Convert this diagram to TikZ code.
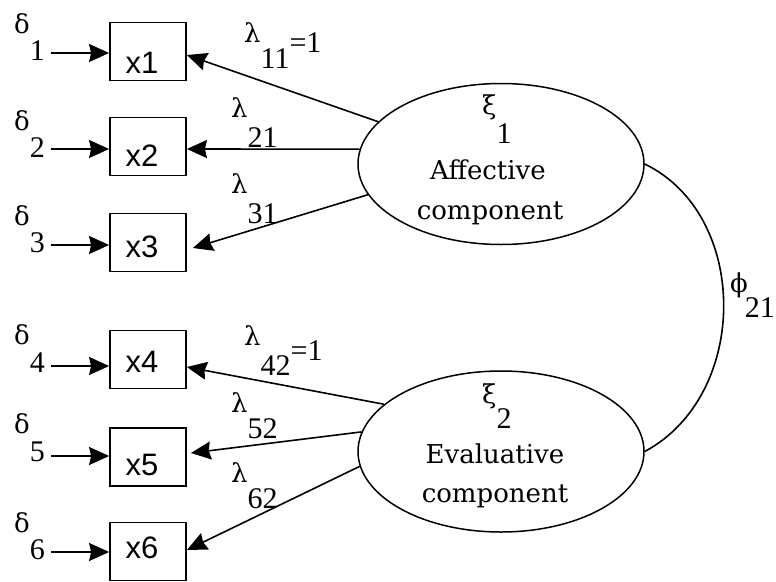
\documentclass[tikz,border=0pt]{standalone}
\usepackage{fontspec}
\setmainfont{DejaVu Serif}
\newfontfamily\boxfont{Liberation Sans}
\newfontfamily\numfont{Liberation Serif}
\usetikzlibrary{arrows.meta,shapes.geometric,calc}
% subscript digits, lowered by #1
\newcommand\sbd[2]{\raisebox{#1}{\numfont\fontsize{30}{32}\selectfont #2}}

\begin{document}
\begin{tikzpicture}[x=1pt,y=-1pt,
  varbox/.style={draw,line width=1.8pt,minimum width=76pt,minimum height=58pt,inner sep=0pt},
  boxtxt/.style={anchor=base,inner sep=0pt,font=\boxfont\fontsize{31}{33}\selectfont},
  latent/.style={draw,ellipse,line width=1.5pt,minimum width=286pt,minimum height=161pt,inner sep=0pt},
  serif/.style={inner sep=0pt,anchor=base west,font=\fontsize{26}{30}\selectfont},
  lintxt/.style={inner sep=0pt,anchor=base,font=\fontsize{26}{30}\selectfont},
  conn/.style={line width=1.6pt},
  arr/.style={-{Stealth[length=20pt,width=18pt,inset=2pt]}},
]
\useasboundingbox (0,0) rectangle (776,581);

% observed indicators
\node[varbox] (x1) at (148,51.5) {};
\node[varbox] (x2) at (148,146.5) {};
\node[varbox] (x3) at (148,242.5) {};
\node[varbox] (x4) at (148,359.5) {};
\node[varbox] (x5) at (148,457) {};
\node[varbox] (x6) at (148,551.5) {};
\node[boxtxt] (x1t) at (142,73) {x1};
\node[boxtxt] (x2t) at (142,166) {x2};
\node[boxtxt] (x3t) at (142,257) {x3};
\node[boxtxt] (x4t) at (142,372) {x4};
\node[boxtxt] (x5t) at (142,475) {x5};
\node[boxtxt] (x6t) at (142,558) {x6};

% measurement errors
\node[serif] (d1) at (14,33) {δ\sbd{-27pt}{1}};
\node[serif] (d2) at (14,130) {δ\sbd{-27pt}{2}};
\node[serif] (d3) at (14,225) {δ\sbd{-27pt}{3}};
\node[serif] (d4) at (14,344) {δ\sbd{-28pt}{4}};
\node[serif] (d5) at (14,433) {δ\sbd{-28pt}{5}};
\node[serif] (d6) at (14,532) {δ\sbd{-27pt}{6}};
\coordinate (s1) at (51,53);
\coordinate (s2) at (51,149);
\coordinate (s3) at (51,245);
\coordinate (s4) at (51,366);
\coordinate (s5) at (51,456);
\coordinate (s6) at (51,552);
\foreach \i in {1,...,6}
  \draw[conn,arr] (s\i) -- (s\i -| x\i.west);

% latent factors
\node[latent] (e1) at (501,164) {};
\node[latent] (e2) at (501,451.5) {};
\node[serif] (k1) at (482,114) {ξ\sbd{-29pt}{1}};
\node[lintxt] (a1) at (488,179) {Affective};
\node[lintxt] (c1) at (490,219) {component};
\node[serif] (k2) at (482,403) {ξ\sbd{-25pt}{2}};
\node[lintxt] (a2) at (495,463) {Evaluative};
\node[lintxt] (c2) at (495,502) {component};

% loadings
\draw[conn,arr] (e1.161.7) -- ($(x1.east)+(0,3.5)$);
\draw[conn,arr] (e1.174) -- ($(x2.east)+(0,2.5)$);
\draw[conn,arr] (e1.193.8) -- ($(x3.east)+(6,5.5)$);
\draw[conn,arr] (e2.158.2) -- ($(x4.east)+(0,7.5)$);
\draw[conn,arr] (e2.172.4) -- ($(x5.east)+(4,-4)$);
\draw[conn,arr] (e2.186.3) -- ($(x6.east)+(0,-1.5)$);
\node[serif] (l11) at (244,42) {λ\sbd{-26pt}{11}\sbd{-10pt}{=1}};
\node[serif] (l21) at (231,117) {λ\sbd{-30pt}{21}};
\node[serif] (l31) at (231,193) {λ\sbd{-30pt}{31}};
\node[serif] (l42) at (244,345) {λ\sbd{-30pt}{42}\sbd{-15pt}{=1}};
\node[serif] (l52) at (231,412) {λ\sbd{-26pt}{52}};
\node[serif] (l62) at (231,482) {λ\sbd{-26pt}{62}};

% factor covariance
\draw[conn] (e1.east) .. controls (750,215) and (750,395) .. (e2.east);
\node[serif] (phi) at (730,292) {ϕ};
\node[inner sep=0pt,anchor=base east,font=\numfont\fontsize{30}{32}\selectfont] (phin) at (775,317) {21};
\end{tikzpicture}
\end{document}
